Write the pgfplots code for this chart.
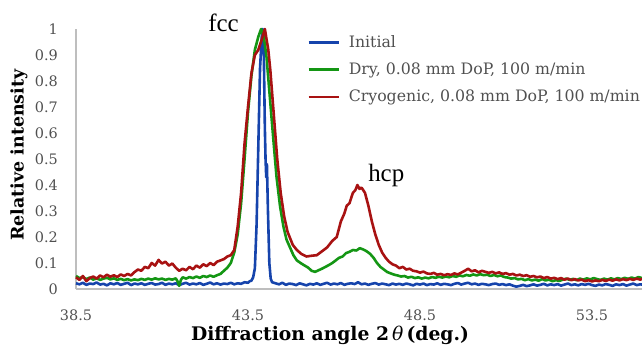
\documentclass[border=0pt]{standalone}
\usepackage{fontspec}
\setmainfont{DejaVu Serif}
\newfontfamily\timesfont{Liberation Serif}
\usepackage{pgfplots}
\pgfplotsset{compat=1.18}

\definecolor{cInit}{RGB}{22,68,172}
\definecolor{cDry}{RGB}{20,150,20}
\definecolor{cCryo}{RGB}{168,18,18}
\definecolor{tickgray}{RGB}{80,80,80}
\definecolor{axgray}{RGB}{190,190,190}

\begin{document}
\begin{tikzpicture}
\path[use as bounding box] (0,0) rectangle (642bp,346bp);
\clip (0,0) rectangle (642bp,346bp);
\begin{axis}[
  at={(76bp,57bp)}, anchor=south west,
  scale only axis, width=567.6bp, height=260bp,
  xmin=38.5, xmax=55, ymin=0, ymax=1,
  axis lines=left,
  axis line style={draw=axgray, line width=1.2bp, -},
  xtick={38.5,43.5,48.5,53.5},
  ytick={0,0.1,...,1.01},
  major tick length=0pt,
  /pgf/number format/assume math mode=true,
  xticklabel style={/pgf/number format/fixed, /pgf/number format/precision=1,
     /pgf/number format/fixed zerofill, anchor=center, inner sep=0pt, yshift=-26bp,
     font=\fontsize{14.5}{17}\selectfont, text=tickgray},
  yticklabel style={/pgf/number format/fixed, /pgf/number format/precision=1,
     anchor=east, inner sep=0pt, xshift=-18bp,
     font=\fontsize{14.5}{17}\selectfont, text=tickgray},
  xlabel={Diffraction angle 2\,{\mdseries\itshape θ}\,(deg.)},
  ylabel={Relative intensity},
  xlabel style={at={(axis description cs:0.4475,0)}, anchor=base, yshift=-51bp,
     font=\fontsize{18.8}{22}\selectfont\bfseries, inner sep=0pt},
  ylabel style={at={(axis description cs:0,0.515)}, anchor=center, yshift=57bp,
     font=\fontsize{17.5}{20}\selectfont\bfseries, inner sep=0pt},
  clip=false,
  legend cell align=left,
  legend image code/.code={\draw[#1] (0bp,0bp) -- (30bp,0bp);},
  legend style={at={(axis description cs:0.407,1.01)}, anchor=north west, yshift=-8bp,
     draw=none, fill=none, inner sep=0pt, row sep=12bp, column sep=8bp,
     font=\fontsize{15.8}{19}\selectfont, text=tickgray,
     nodes={inner sep=1bp}},
  every axis plot/.append style={line width=2.6bp, line join=round},
]
% Initial state
\addplot[cInit] coordinates {
(38.5,.022)(38.6,.018)(38.7,.024)(38.8,.016)(38.9,.021)(39.0,.019)(39.1,.025)(39.2,.017)(39.3,.02)(39.4,.014)
(39.5,.022)(39.6,.018)(39.7,.023)(39.8,.016)(39.9,.02)(40.0,.024)(40.1,.015)(40.2,.021)(40.3,.018)(40.4,.022)
(40.5,.016)(40.6,.02)(40.7,.023)(40.8,.017)(40.9,.019)(41.0,.024)(41.1,.016)(41.2,.021)(41.3,.018)(41.4,.022)
(41.5,.015)(41.6,.02)(41.7,.024)(41.8,.017)(41.9,.021)(42.0,.018)(42.1,.023)(42.2,.016)(42.3,.02)(42.4,.025)
(42.5,.018)(42.6,.022)(42.7,.017)(42.8,.021)(42.9,.019)(43.0,.024)(43.1,.018)(43.2,.022)(43.3,.02)(43.4,.026)
(43.5,.024)(43.55,.03)(43.6,.032)(43.65,.045)(43.7,.08)(43.75,.25)(43.8,.55)(43.85,.85)(43.9,.97)(43.93,1.0)
(43.96,.9)(43.99,.62)(44.01,.5)(44.03,.43)(44.05,.48)(44.08,.3)(44.12,.1)(44.16,.04)(44.2,.026)(44.3,.022)
(44.4,.018)(44.5,.024)(44.6,.016)(44.7,.021)(44.8,.019)(44.9,.015)(45.0,.022)(45.1,.018)(45.2,.014)(45.3,.02)
(45.4,.017)(45.5,.022)(45.6,.016)(45.7,.02)(45.8,.024)(45.9,.017)(46.0,.021)(46.1,.018)(46.2,.023)(46.3,.016)
(46.4,.02)(46.5,.022)(46.6,.019)(46.7,.026)(46.8,.018)(46.9,.021)(47.0,.016)(47.1,.02)(47.2,.023)(47.3,.017)
(47.4,.021)(47.5,.018)(47.6,.015)(47.7,.021)(47.8,.017)(47.9,.02)(48.0,.016)(48.1,.021)(48.2,.018)(48.3,.014)
(48.4,.02)(48.5,.017)(48.6,.021)(48.7,.015)(48.8,.019)(48.9,.017)(49.0,.022)(49.1,.016)(49.2,.02)(49.3,.018)
(49.4,.015)(49.5,.02)(49.6,.023)(49.7,.017)(49.8,.021)(49.9,.024)(50.0,.018)(50.1,.021)(50.2,.016)(50.3,.02)
(50.4,.018)(50.5,.015)(50.6,.019)(50.7,.021)(50.8,.016)(50.9,.019)(51.0,.015)(51.1,.018)(51.2,.013)(51.3,.009)
(51.4,.012)(51.5,.016)(51.6,.011)(51.7,.014)(51.8,.018)(51.9,.013)(52.0,.016)(52.1,.02)(52.2,.014)(52.3,.018)
(52.4,.015)(52.5,.019)(52.6,.013)(52.7,.017)(52.8,.021)(52.9,.015)(53.0,.018)(53.1,.014)(53.2,.019)(53.3,.016)
(53.4,.02)(53.5,.015)(53.6,.012)(53.7,.017)(53.8,.014)(53.9,.019)(54.0,.016)(54.1,.012)(54.2,.018)(54.3,.015)
(54.4,.019)(54.5,.013)(54.6,.017)(54.7,.021)(54.8,.015)(54.9,.018)(55.0,.016)
};
\addlegendentry{Initial}
% Dry machining
\addplot[cDry] coordinates {
(38.5,.05)(38.6,.042)(38.7,.046)(38.8,.038)(38.9,.044)(39.0,.036)(39.1,.041)(39.2,.035)(39.3,.04)(39.4,.043)
(39.5,.037)(39.6,.041)(39.7,.035)(39.8,.039)(39.9,.034)(40.0,.038)(40.1,.033)(40.2,.037)(40.3,.034)(40.4,.039)
(40.5,.035)(40.6,.04)(40.7,.036)(40.8,.041)(40.9,.037)(41.0,.04)(41.1,.035)(41.2,.039)(41.3,.036)(41.4,.041)
(41.45,.03)(41.5,.012)(41.55,.035)(41.6,.045)(41.7,.04)(41.8,.046)(41.9,.042)(42.0,.048)(42.1,.043)(42.2,.05)
(42.3,.046)(42.4,.052)(42.5,.047)(42.6,.053)(42.7,.058)(42.8,.07)(42.9,.082)(43.0,.1)(43.1,.14)(43.2,.21)
(43.3,.33)(43.4,.5)(43.5,.68)(43.6,.82)(43.7,.92)(43.8,.97)(43.88,1.0)(43.96,.97)(44.04,.89)(44.14,.73)
(44.24,.57)(44.33,.43)(44.43,.32)(44.53,.24)(44.62,.19)(44.72,.16)(44.82,.13)(44.92,.11)(45.05,.098)(45.15,.09)
(45.25,.082)(45.35,.07)(45.45,.066)(45.55,.072)(45.65,.078)(45.75,.085)(45.85,.092)(45.95,.1)(46.05,.11)(46.15,.12)
(46.25,.125)(46.35,.138)(46.45,.143)(46.55,.15)(46.65,.148)(46.75,.157)(46.85,.152)(46.95,.145)(47.05,.135)(47.15,.12)
(47.25,.1)(47.35,.085)(47.45,.075)(47.55,.065)(47.65,.06)(47.75,.055)(47.85,.052)(47.95,.048)(48.05,.05)(48.15,.044)
(48.25,.047)(48.35,.042)(48.45,.045)(48.55,.04)(48.65,.044)(48.75,.041)(48.85,.046)(48.95,.043)(49.05,.047)(49.15,.044)
(49.25,.048)(49.35,.045)(49.45,.05)(49.55,.047)(49.65,.052)(49.75,.049)(49.85,.054)(49.95,.051)(50.05,.056)(50.15,.052)
(50.25,.057)(50.35,.053)(50.45,.055)(50.55,.05)(50.65,.054)(50.75,.049)(50.85,.052)(50.95,.046)(51.05,.044)(51.15,.04)
(51.25,.042)(51.35,.037)(51.45,.039)(51.55,.034)(51.65,.038)(51.75,.033)(51.85,.036)(51.95,.032)(52.05,.038)(52.15,.033)
(52.25,.036)(52.35,.03)(52.45,.034)(52.55,.031)(52.65,.036)(52.75,.04)(52.85,.035)(52.95,.039)(53.05,.034)(53.15,.04)
(53.25,.036)(53.35,.041)(53.45,.037)(53.55,.042)(53.65,.038)(53.75,.035)(53.85,.04)(53.95,.036)(54.05,.041)(54.15,.037)
(54.25,.042)(54.35,.038)(54.45,.043)(54.55,.039)(54.65,.044)(54.75,.04)(54.85,.046)(54.95,.042)(55.0,.044)
};
\addlegendentry{Dry, 0.08 mm DoP, 100 m/min}
% Cryogenic machining
\addplot[cCryo] coordinates {
(38.5,.045)(38.6,.035)(38.7,.05)(38.8,.03)(38.9,.042)(39.0,.048)(39.1,.04)(39.2,.052)(39.3,.045)(39.4,.055)
(39.5,.047)(39.6,.053)(39.7,.046)(39.8,.056)(39.9,.05)(40.0,.058)(40.1,.052)(40.2,.065)(40.3,.075)(40.4,.07)
(40.5,.085)(40.6,.08)(40.7,.1)(40.8,.09)(40.9,.112)(41.0,.098)(41.1,.105)(41.2,.09)(41.3,.098)(41.4,.082)
(41.5,.07)(41.6,.078)(41.7,.072)(41.8,.085)(41.9,.076)(42.0,.09)(42.1,.082)(42.2,.095)(42.3,.088)(42.4,.1)
(42.5,.092)(42.6,.105)(42.7,.11)(42.8,.115)(42.9,.125)(43.0,.13)(43.1,.15)(43.2,.24)(43.3,.37)(43.4,.56)
(43.5,.7)(43.6,.83)(43.7,.9)(43.8,.92)(43.9,.96)(43.99,1.0)(44.09,.92)(44.15,.84)(44.25,.67)(44.35,.5)
(44.45,.37)(44.55,.28)(44.65,.22)(44.8,.17)(44.92,.15)(45.05,.135)(45.2,.125)(45.35,.128)(45.5,.13)(45.65,.145)
(45.8,.16)(45.95,.185)(46.08,.2)(46.2,.26)(46.3,.29)(46.37,.32)(46.45,.33)(46.55,.37)(46.62,.38)(46.68,.40)
(46.74,.385)(46.8,.39)(46.9,.37)(47.0,.32)(47.1,.26)(47.2,.21)(47.3,.17)(47.4,.14)(47.5,.12)(47.6,.105)
(47.7,.095)(47.8,.09)(47.9,.08)(48.0,.085)(48.1,.075)(48.2,.078)(48.3,.07)(48.4,.068)(48.5,.063)(48.6,.067)
(48.7,.06)(48.8,.058)(48.9,.062)(49.0,.055)(49.1,.058)(49.2,.053)(49.3,.057)(49.4,.054)(49.5,.06)(49.6,.056)
(49.7,.063)(49.8,.07)(49.9,.078)(50.0,.068)(50.1,.072)(50.2,.064)(50.3,.07)(50.4,.066)(50.5,.062)(50.6,.066)
(50.7,.06)(50.8,.064)(50.9,.058)(51.0,.061)(51.1,.055)(51.2,.058)(51.3,.052)(51.4,.055)(51.5,.05)(51.6,.053)
(51.7,.047)(51.8,.05)(51.9,.045)(52.0,.048)(52.1,.042)(52.2,.046)(52.3,.04)(52.4,.043)(52.5,.038)(52.6,.042)
(52.7,.036)(52.8,.04)(52.9,.034)(53.0,.038)(53.1,.033)(53.2,.036)(53.3,.03)(53.4,.034)(53.5,.029)(53.6,.033)
(53.7,.03)(53.8,.035)(53.9,.031)(54.0,.036)(54.1,.032)(54.2,.037)(54.3,.033)(54.4,.038)(54.5,.034)(54.6,.039)
(54.7,.035)(54.8,.04)(54.9,.036)(55.0,.041)
};
\addlegendentry{Cryogenic, 0.08 mm DoP, 100 m/min}
% Phase labels
\node[anchor=base west, inner sep=0pt, font=\timesfont\fontsize{25}{29}\selectfont]
  at (axis cs:42.34,0.99) {fcc};
\node[anchor=base west, inner sep=0pt, font=\timesfont\fontsize{25}{29}\selectfont]
  at (axis cs:46.99,0.415) {hcp};
\end{axis}
\end{tikzpicture}
\end{document}
